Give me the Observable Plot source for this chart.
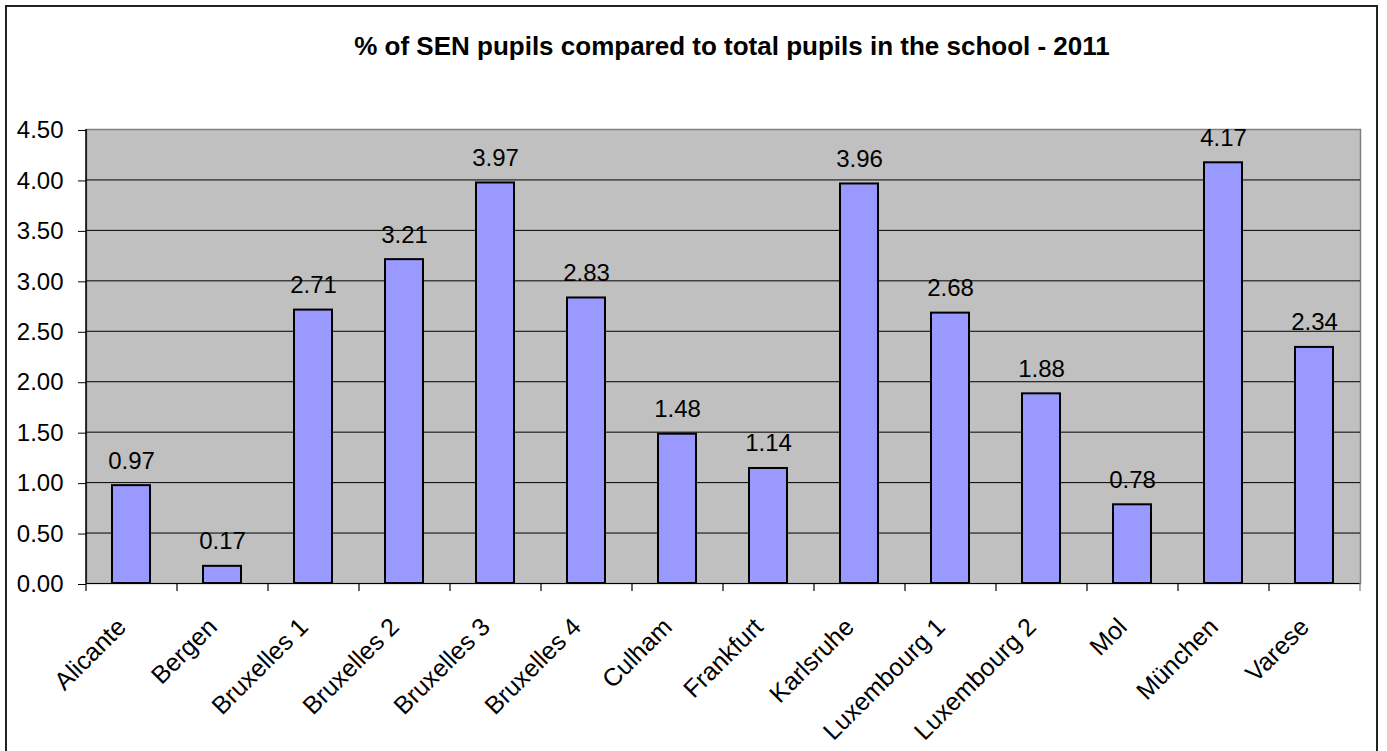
<!DOCTYPE html>
<html>
<head>
<meta charset="utf-8">
<script src="https://cdn.jsdelivr.net/npm/d3@7"></script>
<script src="https://cdn.jsdelivr.net/npm/@observablehq/plot@0.6"></script>
<style>
  html, body { margin: 0; padding: 0; background: #fff; overflow: hidden; }
  #wrap { position: relative; width: 1387px; height: 751px; }
  #border { position: absolute; left: 5px; top: 5px; width: 1373px; height: 760px; border: 2px solid #222; box-sizing: border-box; }
  #chart { position: absolute; left: 0; top: 0; }
</style>
</head>
<body>
<div id="wrap">
  <div id="border"></div>
  <div id="chart"></div>
</div>
<script>
const title = "% of SEN pupils compared to total pupils in the school - 2011";
const schools = ["Alicante","Bergen","Bruxelles 1","Bruxelles 2","Bruxelles 3","Bruxelles 4","Culham","Frankfurt","Karlsruhe","Luxembourg 1","Luxembourg 2","Mol","München","Varese"];
const values = [0.97,0.17,2.71,3.21,3.97,2.83,1.48,1.14,3.96,2.68,1.88,0.78,4.17,2.34];
const yTicks = [0,0.5,1,1.5,2,2.5,3,3.5,4,4.5];

const data = schools.map((s, i) => ({school: s, value: values[i]}));
const W = 1387, H = 751, mL = 86, mR = 27;
const half = (W - mL - mR) / schools.length / 2;
const font = "'Liberation Sans', Arial, sans-serif";

const chart = Plot.plot({
  width: W,
  height: H,
  marginLeft: mL,
  marginRight: mR,
  marginTop: 129,
  marginBottom: 168,
  style: {fontFamily: font, fontSize: "24px", background: "transparent", color: "black"},
  x: {domain: schools, paddingInner: 0.58, paddingOuter: 0.29, axis: null},
  y: {domain: [0, 4.5], axis: null},
  marks: [
    Plot.frame({fill: "#C0C0C0", stroke: "#808080", strokeWidth: 1.5}),
    Plot.ruleY(yTicks.filter(d => d < 4.5), {stroke: "black", strokeWidth: 1}),
    Plot.ruleX([schools[0]], {y1: 0, y2: 4.5, dx: -half, stroke: "black", strokeWidth: 1.5}),
    Plot.ruleX(schools, {x: d => d, y1: 0, y2: -0.08, dx: -half, stroke: "black", strokeWidth: 1.2}),
    Plot.ruleX([schools[schools.length - 1]], {y1: 0, y2: -0.08, dx: half, stroke: "#808080", strokeWidth: 1.2}),
    Plot.axisY({ticks: yTicks, tickFormat: d => d.toFixed(2), tickSize: 8, tickPadding: 15, fontSize: 24, dy: 1, stroke: "black", label: null}),
    Plot.barY(data, {x: "school", y: "value", fill: "#9999FF", stroke: "black", strokeWidth: 2}),
    Plot.text(data, {x: "school", y: "value", text: d => d.value.toFixed(2), dy: -17, lineAnchor: "bottom", fontSize: 24, fill: "black"}),
    Plot.text(schools, {x: d => d, text: d => d, frameAnchor: "bottom", rotate: -45, textAnchor: "end", lineAnchor: "bottom", dx: -4, dy: 45, fontSize: 25, fill: "black"}),
    Plot.text([title], {text: d => d, frameAnchor: "top", lineAnchor: "bottom", dy: -75, dx: 8.5, fontSize: 26, fontWeight: "bold", fill: "black"})
  ]
});
document.getElementById("chart").appendChild(chart);
</script>
</body>
</html>
